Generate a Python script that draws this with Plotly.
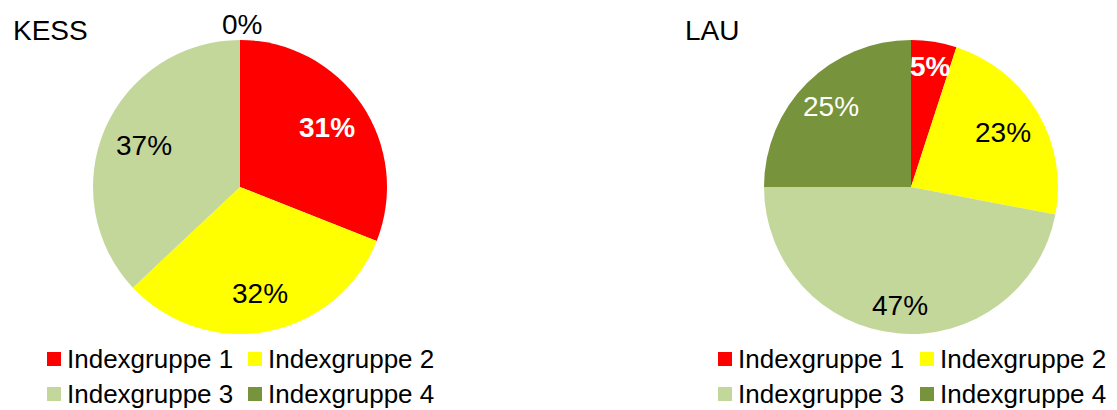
import math
import plotly.graph_objects as go

W, H = 1117, 410

groups = ["Indexgruppe 1", "Indexgruppe 2", "Indexgruppe 3", "Indexgruppe 4"]
colors = ["#FF0000", "#FFFF00", "#C4D79B", "#77933C"]

kess_values = [31, 32, 37, 0]
lau_values = [5, 23, 47, 25]

kess_bold = [True, False, False, False]
lau_bold = [True, False, False, False]
kess_textcolor = ["white", "black", "black", "white"]
lau_textcolor = ["white", "black", "black", "white"]

# how far out (fraction of the radius) each data label sits
kess_label_r = [0.71, 0.73, 0.71, 0.0]
lau_label_r = [0.83, 0.73, 0.81, 0.77]

FONT = "Liberation Sans, Arial, sans-serif"


def px_x(x):
    return x / W


def px_y(y):
    return 1 - y / H


fig = go.Figure()

pies = [
    ("KESS", kess_values, kess_bold, kess_textcolor, kess_label_r, (92, 388), 11),
    ("LAU", lau_values, lau_bold, lau_textcolor, lau_label_r, (764, 1058), 683),
]
PIE_TOP, PIE_BOTTOM = 40, 334

for name, values, bold, tcol, lab_r, (x0, x1), title_x in pies:
    fig.add_trace(go.Pie(
        labels=groups, values=values, textinfo="none",
        marker=dict(colors=colors, line=dict(width=0)),
        sort=False, direction="clockwise", rotation=0,
        domain=dict(x=[px_x(x0), px_x(x1)], y=[px_y(PIE_BOTTOM), px_y(PIE_TOP)]),
        showlegend=False, name=name, hoverinfo="label+percent",
    ))
    fig.add_annotation(x=px_x(title_x), y=px_y(31), xref="paper", yref="paper",
                       text=name, showarrow=False, xanchor="left", yanchor="middle",
                       font=dict(family=FONT, size=28, color="black"))

    # data labels placed at the middle angle of each slice (clockwise from 12 o'clock)
    cx = (x0 + x1) / 2
    cy = (PIE_TOP + PIE_BOTTOM) / 2
    r = (x1 - x0) / 2
    total = sum(values)
    cum = 0
    for v, b, c, fr in zip(values, bold, tcol, lab_r):
        mid = (cum + v / 2) / total * 2 * math.pi
        cum += v
        if v == 0:
            continue
        lx = cx + fr * r * math.sin(mid)
        ly = cy - fr * r * math.cos(mid)
        t = f"{v}%"
        fig.add_annotation(x=px_x(lx), y=px_y(ly), xref="paper", yref="paper",
                           text=f"<b>{t}</b>" if b else t, showarrow=False,
                           xanchor="center", yanchor="middle",
                           font=dict(family=FONT, size=28, color=c))

# zero slice label drawn outside at the top of the KESS pie
fig.add_annotation(x=px_x(242), y=px_y(24), xref="paper", yref="paper",
                   text=f"{kess_values[3]}%", showarrow=False,
                   xanchor="center", yanchor="middle",
                   font=dict(family=FONT, size=28, color="black"))

# custom 2x2 legends under each pie
legend_cols = {"KESS": [47, 248], "LAU": [718, 920]}
rows_y = [359, 394]
for key, cols in legend_cols.items():
    for i, g in enumerate(groups):
        lx = cols[i % 2]
        ly = rows_y[i // 2]
        fig.add_shape(type="rect", xref="paper", yref="paper",
                      x0=px_x(lx), x1=px_x(lx + 14), y0=px_y(ly - 7), y1=px_y(ly + 7),
                      fillcolor=colors[i], line=dict(width=0))
        fig.add_annotation(x=px_x(lx + 18), y=px_y(ly), xref="paper", yref="paper",
                           text=g, showarrow=False, xanchor="left", yanchor="middle",
                           font=dict(family=FONT, size=26, color="black"))

fig.update_layout(
    width=W, height=H,
    margin=dict(l=0, r=0, t=0, b=0),
    paper_bgcolor="white", plot_bgcolor="white",
    font=dict(family=FONT),
)

fig.write_html("out.html", config={"displayModeBar": False},
               post_script="document.body.style.margin='0';document.body.style.overflow='hidden';")
